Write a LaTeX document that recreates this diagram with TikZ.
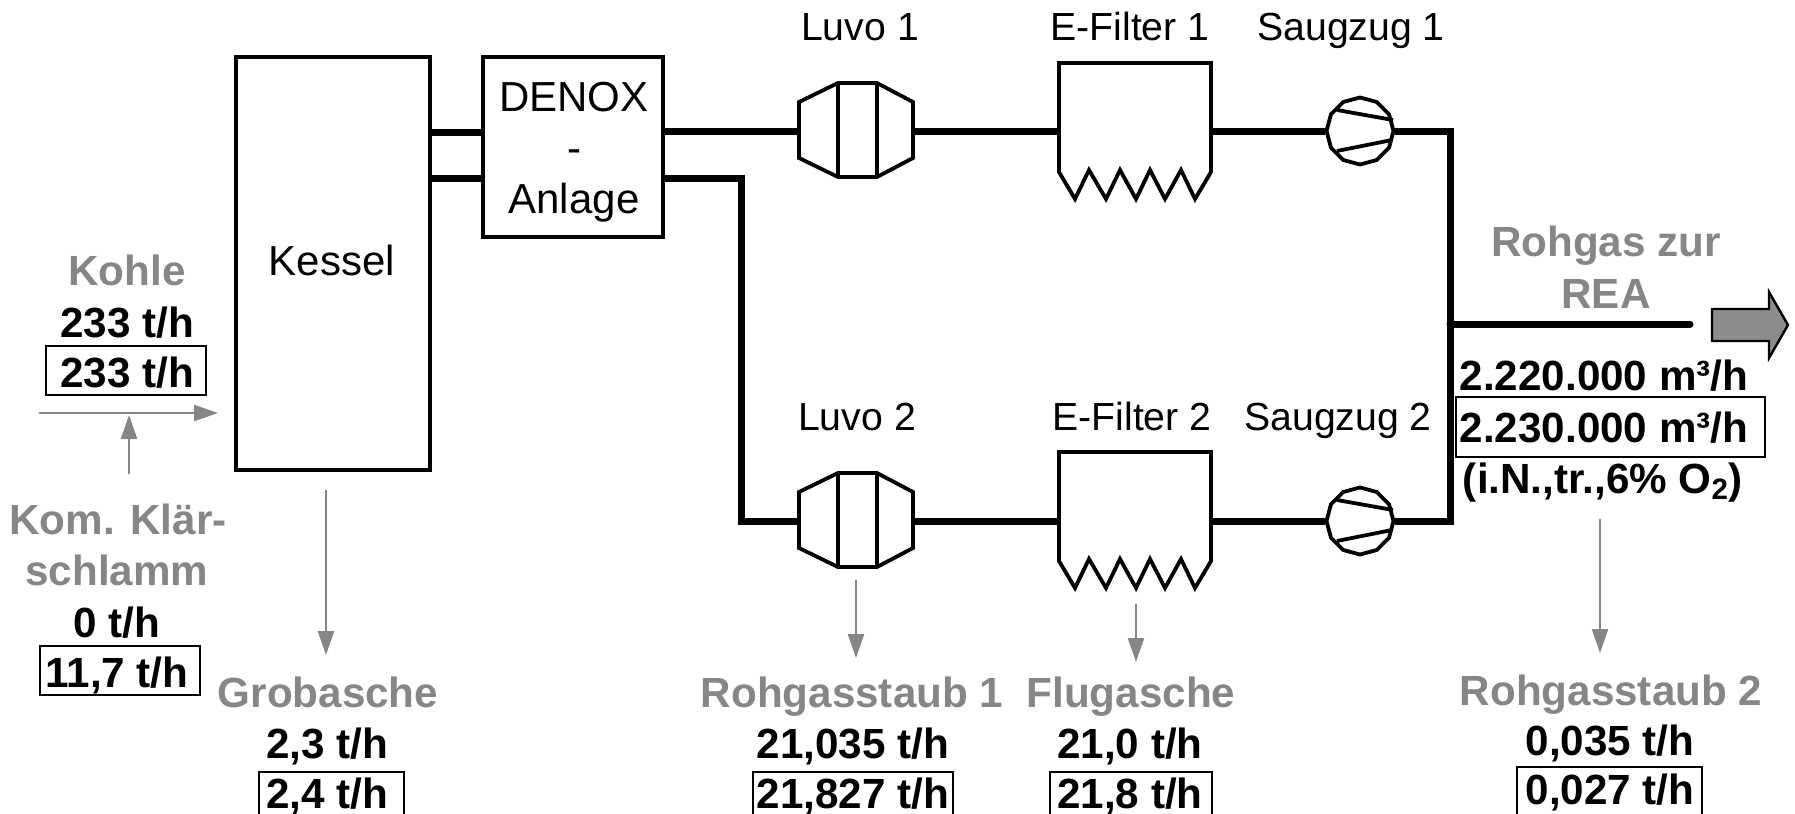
\documentclass[tikz,border=0pt]{standalone}
\usepackage{fontspec}
\setmainfont{Liberation Sans}
\usetikzlibrary{arrows.meta,shapes.geometric}
\definecolor{stoffgrau}{HTML}{868686}
\definecolor{pfeilgrau}{HTML}{8C8C8C}
\tikzset{
    anlage/.style = {draw, line width = 1.9pt, fill = white, inner sep = 0pt},
    gehaeuse/.style = {draw, line width = 1.9pt, fill = white, line join = miter},
    geblaese/.style = {draw, line width = 1.9pt, fill = white, regular polygon, regular polygon sides = 12, shape border rotate = 15, minimum size = 33.5pt, inner sep = 0pt},
    rohr/.style = {line width = 3.5pt},
    strom/.style = {draw = stoffgrau, line width = 1.3pt, -{Triangle[length = 12pt, width = 8pt]}},
    rahmen/.style = {draw, line width = 1.2pt},
    zeile/.style = {text height = 15pt, text depth = 0pt, inner sep = 0pt},
    bez/.style = {zeile, text height = 14pt, font = \fontsize{19.6}{21}\selectfont},
    grossbez/.style = {zeile, font = \fontsize{21}{21}\selectfont},
    wert/.style = {zeile, font = \fontsize{21.1}{21}\selectfont\bfseries},
    stoff/.style = {zeile, font = \fontsize{21.1}{21}\selectfont\bfseries, text = stoffgrau}
}
\begin{document}
\begin{tikzpicture}[x = 0.5pt, y = -0.5pt]
    \useasboundingbox (0,0) rectangle (1795,814);
    % kessel, denox
    \coordinate (kesselA) at (430,132);
    \coordinate (kesselB) at (430,178);
    \coordinate (denoxA) at (483,132);
    \coordinate (denoxB) at (483,178);
    \coordinate (denoxC) at (663,131);
    \coordinate (denoxD) at (663,178);
    \coordinate (knickA) at (741,178);
    \coordinate (knickB) at (741,521);
    \coordinate (knickC) at (1450,131);
    \coordinate (knickD) at (1450,521);
    \coordinate (knickE) at (1450,324);
    \coordinate (rohgasEnde) at (1690,324);
    \coordinate (luvoAw) at (799,131);
    \coordinate (luvoAe) at (913,131);
    \coordinate (luvoBw) at (799,521);
    \coordinate (luvoBe) at (913,521);
    \coordinate (filterAw) at (1059,131);
    \coordinate (filterAe) at (1211,131);
    \coordinate (filterBw) at (1059,521);
    \coordinate (filterBe) at (1211,521);
    \node[geblaese] (saugA) at (1360,131) {};
    \node[geblaese] (saugB) at (1360,521) {};
    % rohre
    \draw[rohr] (kesselA) -- (denoxA);
    \draw[rohr] (kesselB) -- (denoxB);
    \draw[rohr] (denoxC) -- (luvoAw);
    \draw[rohr] (luvoAe) -- (filterAw);
    \draw[rohr] (filterAe) -- (saugA.west);
    \draw[rohr] (filterBe) -- (saugB.west);
    \draw[rohr] (luvoBe) -- (filterBw);
    \draw[rohr] (denoxD) -- (knickA) -- (knickB) -- (luvoBw);
    \draw[rohr] (saugA.east) -- (knickC) -- (knickD) -- (saugB.east);
    \draw[rohr, line cap = round] (knickE) -- (rohgasEnde);
    \node[anlage, minimum width = 97pt, minimum height = 206.5pt] (kessel) at (333,263.5) {};
    \node[grossbez] (kesselT) at (332,260) {Kessel};
    \node[anlage, minimum width = 90pt, minimum height = 90pt] (denox) at (573,147) {};
    \node[grossbez] (denoxT) at (574,96) {DENOX};
    \node[grossbez] (denoxS) at (574,147) {-};
    \node[grossbez] (denoxU) at (574,198) {Anlage};
    % luvo 1 und 2
    \draw[gehaeuse] (799,102) -- (838,83) -- (877,83) -- (913,102) -- (913,158) -- (877,177) -- (838,177) -- (799,158) -- cycle;
    \draw[gehaeuse] (838,83) -- (838,177);
    \draw[gehaeuse] (877,83) -- (877,177);
    \draw[gehaeuse] (799,492) -- (838,473) -- (877,473) -- (913,492) -- (913,548) -- (877,567) -- (838,567) -- (799,548) -- cycle;
    \draw[gehaeuse] (838,473) -- (838,567);
    \draw[gehaeuse] (877,473) -- (877,567);
    % e-filter 1 und 2
    \draw[gehaeuse] (1059,172) -- (1059,63) -- (1211,63) -- (1211,172) -- (1195,199) -- (1181,170) -- (1165,199) -- (1150,170) -- (1136,199) -- (1120,170) -- (1106,199) -- (1089,170) -- (1075,199) -- cycle;
    \draw[gehaeuse] (1059,561) -- (1059,452) -- (1211,452) -- (1211,561) -- (1195,588) -- (1181,559) -- (1165,588) -- (1150,559) -- (1136,588) -- (1120,559) -- (1106,588) -- (1089,559) -- (1075,588) -- cycle;
    % geblaese
    \draw[gehaeuse] (1337,110) -- (1393,120);
    \draw[gehaeuse] (1337,151) -- (1392,140);
    \draw[gehaeuse] (1337,500) -- (1393,510);
    \draw[gehaeuse] (1337,541) -- (1392,530);
    % beschriftung oben
    \node[bez] (luvoAt) at (860,26) {Luvo 1};
    \node[bez] (filterAt) at (1130,26) {E-Filter 1};
    \node[bez] (saugAt) at (1351,26) {Saugzug 1};
    \node[bez] (luvoBt) at (857,416) {Luvo 2};
    \node[bez] (filterBt) at (1132,416) {E-Filter 2};
    \node[bez] (saugBt) at (1338,416) {Saugzug 2};
    % kohle
    \node[stoff] (kohle) at (127,270) {Kohle};
    \node[wert] (kohleW) at (127,322) {233 t/h};
    \draw[rahmen] (46,346) rectangle (206,395);
    \node[wert] (kohleM) at (127,372) {233 t/h};
    \coordinate (kohleStart) at (39,413);
    \coordinate (kohleZiel) at (218,413);
    \coordinate (schlammStart) at (129,474);
    \coordinate (schlammZiel) at (129,415);
    \draw[strom] (kohleStart) -- (kohleZiel);
    \draw[strom] (schlammStart) -- (schlammZiel);
    \node[stoff] (schlammA) at (118,519) {Kom. Klär-};
    \node[stoff] (schlammB) at (117,570) {schlamm};
    \node[wert] (schlammW) at (117,622) {0 t/h};
    \draw[rahmen] (40,646) rectangle (200,695);
    \node[wert] (schlammM) at (117,672) {11,7 t/h};
    % grobasche
    \coordinate (grobStart) at (326,490);
    \coordinate (grobZiel) at (326,655);
    \draw[strom] (grobStart) -- (grobZiel);
    \node[stoff] (grob) at (328,692) {Grobasche};
    \node[wert] (grobW) at (327,743) {2,3 t/h};
    \draw[rahmen] (259,772) rectangle (404,830);
    \node[wert] (grobM) at (327,793) {2,4 t/h};
    % rohgasstaub 1
    \coordinate (staubAStart) at (856,580);
    \coordinate (staubAZiel) at (856,658);
    \draw[strom] (staubAStart) -- (staubAZiel);
    \node[stoff] (staubA) at (852,692) {Rohgasstaub 1};
    \node[wert] (staubAW) at (853,743) {21,035 t/h};
    \draw[rahmen] (753,772) rectangle (953,830);
    \node[wert] (staubAM) at (853,793) {21,827 t/h};
    % flugasche
    \coordinate (flugStart) at (1136,604);
    \coordinate (flugZiel) at (1136,662);
    \draw[strom] (flugStart) -- (flugZiel);
    \node[stoff] (flug) at (1131,692) {Flugasche};
    \node[wert] (flugW) at (1130,743) {21,0 t/h};
    \draw[rahmen] (1050,772) rectangle (1212,830);
    \node[wert] (flugM) at (1130,793) {21,8 t/h};
    % rohgas
    \node[stoff] (rohgasA) at (1606,241) {Rohgas zur};
    \node[stoff] (rohgasB) at (1606,293) {REA};
    \draw[gehaeuse, line width = 1.2pt, fill = pfeilgrau] (1712,309) -- (1769,309) -- (1769,292) -- (1788,325) -- (1769,358) -- (1769,341) -- (1712,341) -- cycle;
    \node[wert] (rohgasW) at (1604,375) {2.220.000 m³/h};
    \draw[rahmen] (1456,397) rectangle (1765,457);
    \node[wert] (rohgasM) at (1604,427) {2.230.000 m³/h};
    \node[wert] (rohgasN) at (1603,478) {(i.N.,tr.,6\% O\textsubscript{2})};
    % rohgasstaub 2
    \coordinate (staubBStart) at (1600,519);
    \coordinate (staubBZiel) at (1600,653);
    \draw[strom] (staubBStart) -- (staubBZiel);
    \node[stoff] (staubB) at (1611,690) {Rohgasstaub 2};
    \node[wert] (staubBW) at (1610,740) {0,035 t/h};
    \draw[rahmen] (1517,767) rectangle (1702,830);
    \node[wert] (staubBM) at (1610,789) {0,027 t/h};
\end{tikzpicture}
\end{document}
